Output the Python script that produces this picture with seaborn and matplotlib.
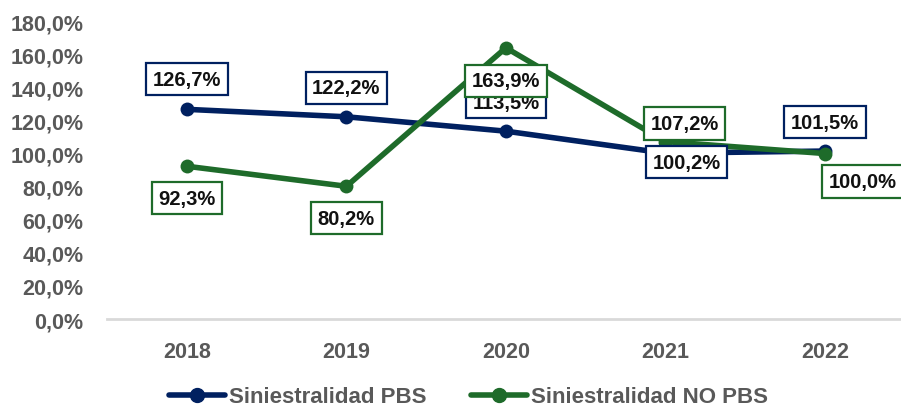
"""
Siniestralidad PBS vs NO PBS, 2018-2022.
Line chart with boxed data labels, Excel-like look.
"""
import matplotlib
matplotlib.use("Agg")
import matplotlib.pyplot as plt
import matplotlib.ticker as mticker
import pandas as pd
import seaborn as sns

YEARS = [2018, 2019, 2020, 2021, 2022]
PBS = [126.7, 122.2, 113.5, 100.2, 101.5]
NO_PBS = [92.3, 80.2, 163.9, 107.2, 100.0]
SERIES_NAMES = ["Siniestralidad PBS", "Siniestralidad NO PBS"]

NAVY = "#002060"
GREEN = "#1E6B2A"
GRAY = "#595959"

# label offsets in pixels (dx, dy) relative to each point
PBS_OFFSETS = [(0, 30), (0, 29), (0, 29), (21, -9), (0, 29)]
NO_PBS_OFFSETS = [(0, -32), (0, -32), (0, -33), (19, 18), (38, -28)]


def set_style() -> None:
    sns.set_theme(style="white")
    plt.rcParams.update({
        "font.family": ["Liberation Sans", "DejaVu Sans"],
        "font.weight": "bold",
        "axes.spines.left": False,
        "axes.spines.right": False,
        "axes.spines.top": False,
    })


def fmt_pct(v: float) -> str:
    return f"{v:.1f}%".replace(".", ",")


def add_labels(ax, values, offsets, color):
    for x, v, (dx, dy) in zip(YEARS, values, offsets):
        ax.annotate(
            fmt_pct(v), xy=(x, v), xytext=(dx, dy), textcoords="offset pixels",
            ha="center", va="center", fontsize=14.5, fontweight="bold", color="#111111",
            bbox=dict(boxstyle="square,pad=0.33", fc="white", ec=color, lw=1.6),
            zorder=10,
        )


def build_figure() -> plt.Figure:
    df = pd.DataFrame({"year": YEARS + YEARS,
                       "value": PBS + NO_PBS,
                       "serie": [SERIES_NAMES[0]] * 5 + [SERIES_NAMES[1]] * 5})

    fig = plt.figure(figsize=(9.01, 4.10), dpi=100)
    ax = fig.add_axes([0.119, 0.2195, 0.885, 0.7265])

    sns.lineplot(data=df, x="year", y="value", hue="serie",
                 palette=[NAVY, GREEN], marker="o", markersize=10,
                 markeredgewidth=0, linewidth=4.0, ax=ax, legend=False)

    add_labels(ax, PBS, PBS_OFFSETS, NAVY)
    add_labels(ax, NO_PBS, NO_PBS_OFFSETS, GREEN)

    ax.set_xlim(2017.5, 2022.5)
    ax.set_ylim(0, 180)
    ax.set_xticks(YEARS)
    ax.set_yticks(range(0, 181, 20))
    ax.yaxis.set_major_formatter(mticker.FuncFormatter(lambda v, _: fmt_pct(v)))
    ax.tick_params(axis="both", length=0, labelsize=15.5, labelcolor=GRAY)
    ax.tick_params(axis="x", pad=16)
    ax.tick_params(axis="y", pad=17)
    for lab in ax.get_xticklabels() + ax.get_yticklabels():
        lab.set_fontweight("bold")
    ax.spines["bottom"].set_color("#D9D9D9")
    ax.spines["bottom"].set_linewidth(2)
    ax.set_xlabel("")
    ax.set_ylabel("")
    ax.grid(False)

    handles = [plt.Line2D([], [], color=c, lw=4.0, marker="o", markersize=10)
               for c in (NAVY, GREEN)]
    leg = fig.legend(handles, SERIES_NAMES, loc="lower center", ncol=2,
                     bbox_to_anchor=(0.52, -0.045), frameon=False,
                     handlelength=2.5, handletextpad=0.2, columnspacing=2.0,
                     prop={"size": 16, "weight": "bold"})
    for t in leg.get_texts():
        t.set_color(GRAY)
    return fig


def main() -> None:
    set_style()
    fig = build_figure()
    fig.savefig("out.png", dpi=100, facecolor="white")


if __name__ == "__main__":
    main()
